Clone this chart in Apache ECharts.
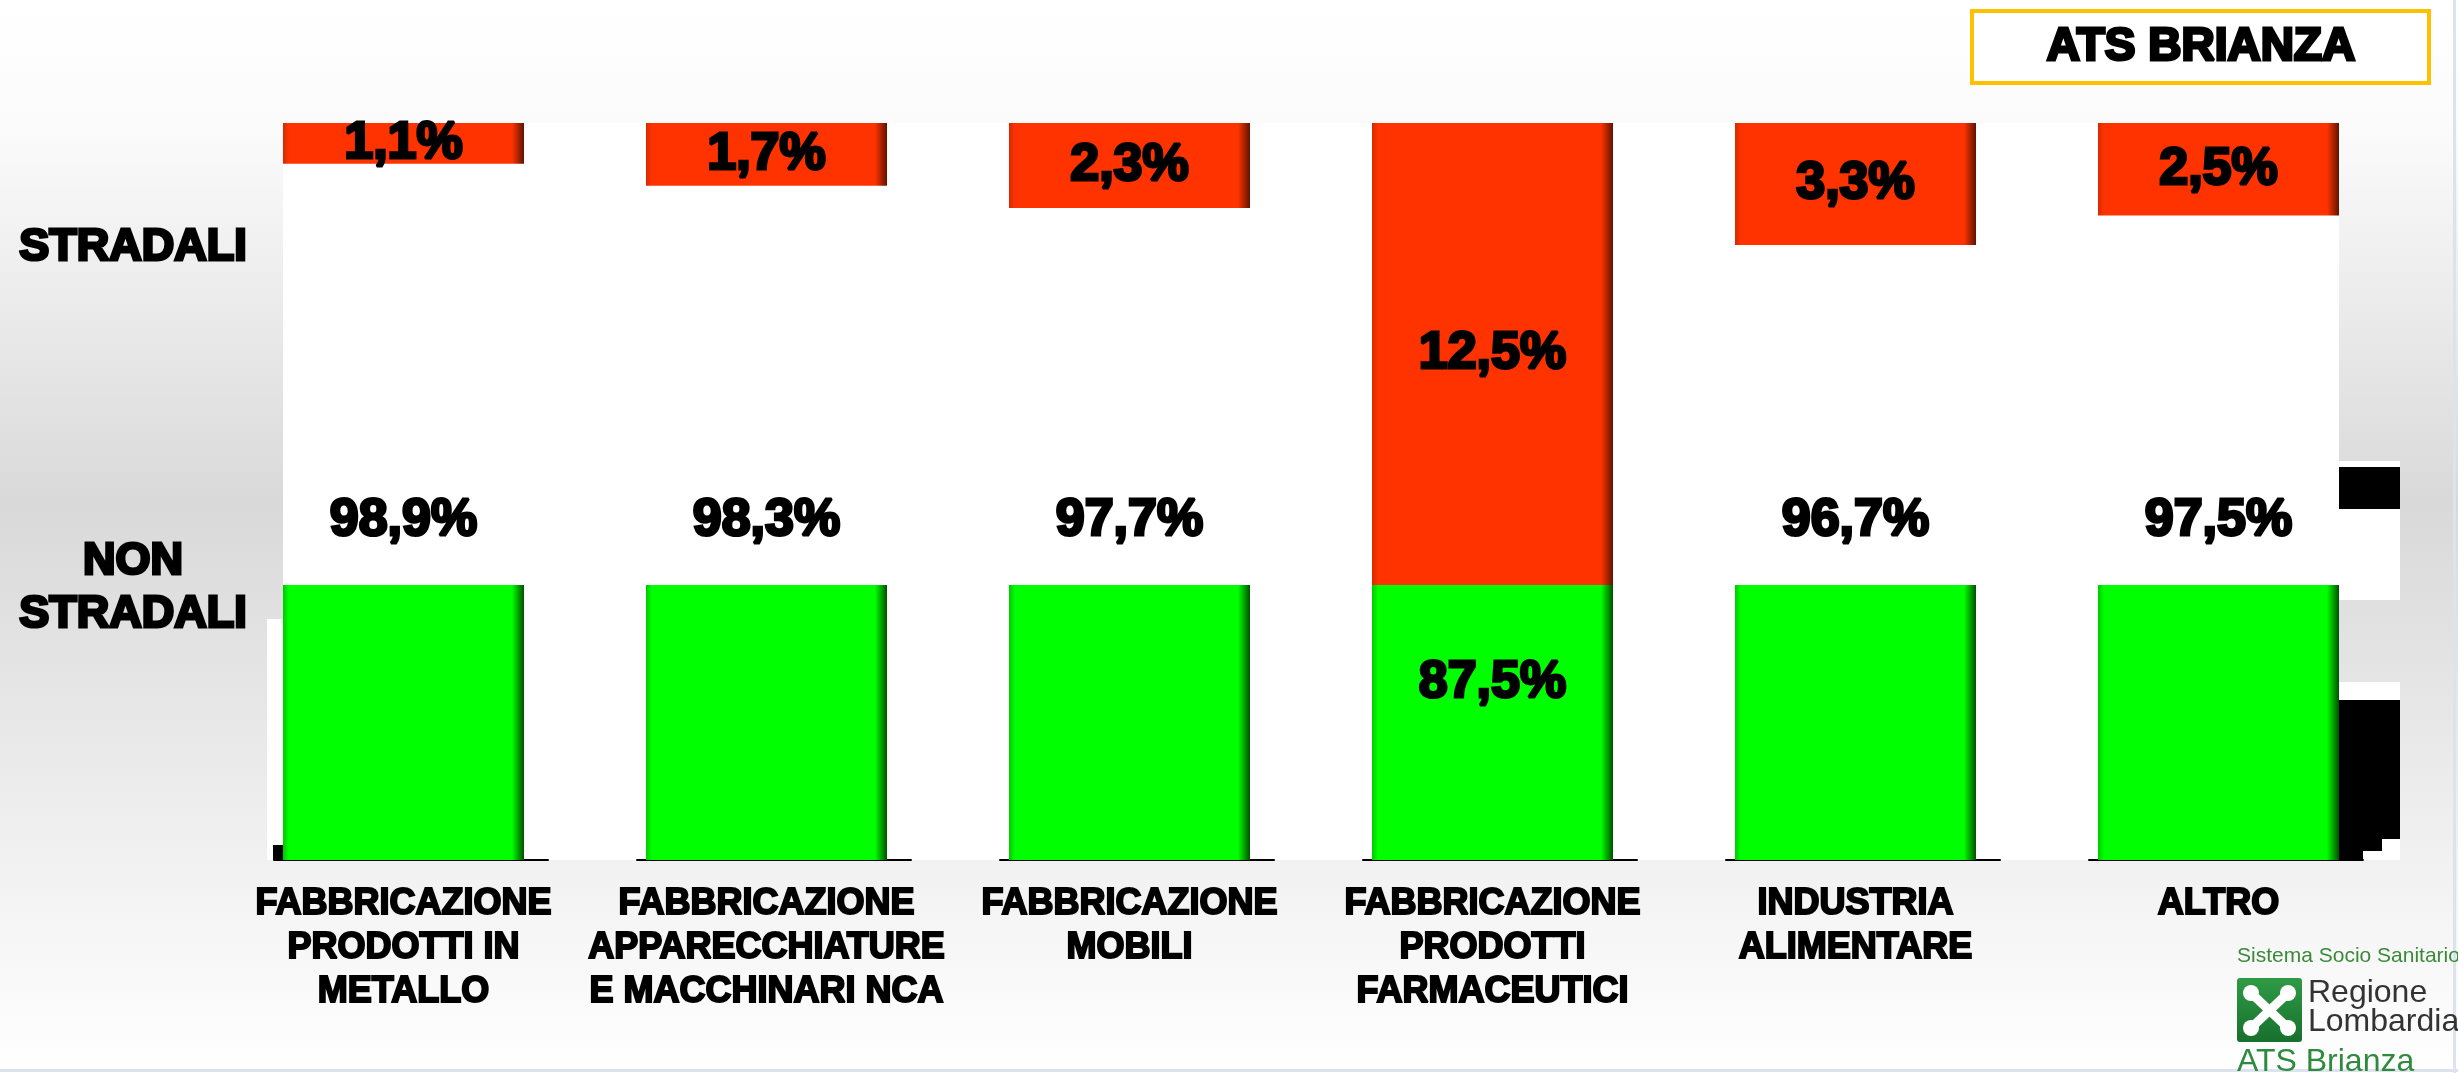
<!DOCTYPE html>
<html>
<head>
<meta charset="utf-8">
<script src="https://cdn.jsdelivr.net/npm/echarts@6/dist/echarts.min.js"></script>
<style>html,body{margin:0;padding:0;background:#fff;}#c{width:2458px;height:1073px;}</style>
</head>
<body>
<div id="c"></div>
<script>
// ---- data ----
const categories = [
  'FABBRICAZIONE\nPRODOTTI IN\nMETALLO',
  'FABBRICAZIONE\nAPPARECCHIATURE\nE MACCHINARI NCA',
  'FABBRICAZIONE\nMOBILI',
  'FABBRICAZIONE\nPRODOTTI\nFARMACEUTICI',
  'INDUSTRIA\nALIMENTARE',
  'ALTRO'
];
const stradali    = [1.1, 1.7, 2.3, 12.5, 3.3, 2.5];
const nonStradali = [98.9, 98.3, 97.7, 87.5, 96.7, 97.5];
const rowLabels = ['STRADALI', 'NON\nSTRADALI'];
const titleText = 'ATS BRIANZA';

// axis bounds (broken 100% stacked scale)
const topMin = 0, topMax = 12.5;      // stradali hanging from 100%
const lowMin = 80, lowMax = 87.5;     // non stradali visible part

const FONT = '"Arial Black", "Liberation Sans", Arial, sans-serif';
const fmt = v => v.toFixed(1).replace('.', ',') + '%';

const chart = echarts.init(document.getElementById('c'), null, {renderer: 'canvas'});
const G = echarts.graphic;

const redFill = new G.LinearGradient(0, 0, 1, 0, [
  {offset: 0, color: '#d42a00'}, {offset: 0.025, color: '#ff3300'},
  {offset: 0.95, color: '#ff3300'}, {offset: 1, color: '#5e1400'}
]);
const greenFill = new G.LinearGradient(0, 0, 1, 0, [
  {offset: 0, color: '#00c800'}, {offset: 0.025, color: '#00ff00'},
  {offset: 0.95, color: '#00ff00'}, {offset: 1, color: '#005000'}
]);

const valueLabel = {
  show: true, color: '#000', fontFamily: FONT, fontWeight: 'bold', fontSize: 52,
  textBorderColor: '#000', textBorderWidth: 3,
  formatter: p => fmt(p.value)
};

const greenData = nonStradali.map(v => v <= lowMax
  ? {value: v, label: {position: 'insideTop', distance: 72}}
  : v);

const option = {
  animation: false,
  backgroundColor: '#ffffff',
  grid: [
    {left: 222, right: 58, top: 123, height: 462},
    {left: 222, right: 58, top: 585, height: 275}
  ],
  xAxis: [
    {gridIndex: 0, type: 'category', data: categories, show: false},
    {gridIndex: 1, type: 'category', data: categories,
     axisLine: {show: true, lineStyle: {color: '#000', width: 2, type: [274, 89], dashOffset: 311}},
     axisTick: {show: false},
     axisLabel: {interval: 0, margin: 22, color: '#000', fontFamily: FONT, fontWeight: 'bold',
                 fontSize: 36, lineHeight: 44, align: 'center',
                 textBorderColor: '#000', textBorderWidth: 2}}
  ],
  yAxis: [
    {gridIndex: 0, type: 'value', inverse: true, min: topMin, max: topMax, show: false},
    {gridIndex: 1, type: 'value', min: lowMin, max: lowMax, show: false}
  ],
  series: [
    {name: 'Stradali', type: 'bar', xAxisIndex: 0, yAxisIndex: 0, data: stradali,
     barCategoryGap: '33.6%', itemStyle: {color: redFill},
     label: Object.assign({position: 'inside'}, valueLabel)},
    {name: 'Non stradali', type: 'bar', xAxisIndex: 1, yAxisIndex: 1, data: greenData,
     barCategoryGap: '33.6%', clip: true, itemStyle: {color: greenFill},
     label: Object.assign({position: 'top', distance: 38}, valueLabel)}
  ],
  graphic: [
    // page background gradient
    {type: 'rect', z: -100, silent: true, shape: {x: 0, y: 0, width: 2458, height: 1073},
     style: {fill: new G.LinearGradient(0, 0, 0, 1, [
       {offset: 0, color: '#ffffff'}, {offset: 0.12, color: '#fbfbfb'},
       {offset: 0.47, color: '#d9d9d9'}, {offset: 0.8, color: '#f1f1f1'}, {offset: 1, color: '#ffffff'}])}},
    // white plot panel
    {type: 'rect', z: -50, silent: true, shape: {x: 283, y: 123, width: 2056, height: 737}, style: {fill: '#ffffff'}},
    {type: 'rect', z: -50, silent: true, shape: {x: 267, y: 619, width: 16, height: 241}, style: {fill: '#ffffff'}},
    {type: 'rect', z: -40, silent: true, shape: {x: 273, y: 845, width: 10, height: 15}, style: {fill: '#000'}},
    // remnants at right
    {type: 'rect', z: -50, silent: true, shape: {x: 2339, y: 461, width: 61, height: 139}, style: {fill: '#ffffff'}},
    {type: 'rect', z: -40, silent: true, shape: {x: 2339, y: 467, width: 61, height: 42}, style: {fill: '#000'}},
    {type: 'rect', z: -50, silent: true, shape: {x: 2339, y: 682, width: 61, height: 178}, style: {fill: '#ffffff'}},
    {type: 'rect', z: -40, silent: true, shape: {x: 2339, y: 700, width: 61, height: 139}, style: {fill: '#000'}},
    {type: 'rect', z: -40, silent: true, shape: {x: 2339, y: 839, width: 24, height: 21}, style: {fill: '#000'}},
    {type: 'rect', z: -40, silent: true, shape: {x: 2363, y: 839, width: 19, height: 12}, style: {fill: '#000'}},
    // frame lines
    {type: 'rect', z: -30, silent: true, shape: {x: 2453, y: 0, width: 3, height: 1073}, style: {fill: '#dce3ef'}},
    {type: 'rect', z: -30, silent: true, shape: {x: 0, y: 1069, width: 2458, height: 3}, style: {fill: '#dce3ef'}},
    // row labels
    {type: 'text', z: 10, x: 133, y: 248,
     style: {text: rowLabels[0], font: 'bold 45px ' + FONT, fill: '#000', stroke: '#000', lineWidth: 3,
             align: 'center', verticalAlign: 'middle'}},
    {type: 'text', z: 10, x: 133, y: 588,
     style: {text: rowLabels[1], font: 'bold 45px ' + FONT, lineHeight: 53, fill: '#000', stroke: '#000', lineWidth: 3,
             align: 'center', verticalAlign: 'middle'}},
    // title box
    {type: 'rect', z: 10, shape: {x: 1972, y: 11, width: 457, height: 72},
     style: {fill: '#ffffff', stroke: '#ffc000', lineWidth: 4}},
    {type: 'text', z: 11, x: 2201, y: 47,
     style: {text: titleText, font: 'bold 46px ' + FONT, fill: '#000', stroke: '#000', lineWidth: 3,
             align: 'center', verticalAlign: 'middle'}},
    // logo
    {type: 'text', z: 10, x: 2237, y: 956,
     style: {text: 'Sistema Socio Sanitario', font: '21px "Liberation Sans", Arial, sans-serif', fill: '#3a8a3a',
             align: 'left', verticalAlign: 'middle'}},
    {type: 'rect', z: 10, shape: {x: 2237, y: 978, width: 65, height: 64, r: 3},
     style: {fill: new G.LinearGradient(0, 0, 0, 1, [{offset: 0, color: '#2f9a45'}, {offset: 1, color: '#17702d'}])}},
    {type: 'line', z: 11, shape: {x1: 2252, y1: 994, x2: 2287, y2: 1027}, style: {stroke: '#ffffff', lineWidth: 9}},
    {type: 'line', z: 11, shape: {x1: 2287, y1: 994, x2: 2252, y2: 1027}, style: {stroke: '#ffffff', lineWidth: 9}},
    {type: 'circle', z: 11, shape: {cx: 2251, cy: 993, r: 8}, style: {fill: '#ffffff'}},
    {type: 'circle', z: 11, shape: {cx: 2288, cy: 993, r: 8}, style: {fill: '#ffffff'}},
    {type: 'circle', z: 11, shape: {cx: 2251, cy: 1028, r: 8}, style: {fill: '#ffffff'}},
    {type: 'circle', z: 11, shape: {cx: 2288, cy: 1028, r: 8}, style: {fill: '#ffffff'}},
    {type: 'text', z: 10, x: 2308, y: 1008,
     style: {text: 'Regione\nLombardia', font: '32px "Liberation Sans", Arial, sans-serif', lineHeight: 29, fill: '#333333',
             align: 'left', verticalAlign: 'middle'}},
    {type: 'text', z: 10, x: 2237, y: 1062,
     style: {text: 'ATS Brianza', font: '32px "Liberation Sans", Arial, sans-serif', fill: '#2e8b3e',
             align: 'left', verticalAlign: 'middle'}}
  ]
};
chart.setOption(option);
</script>
</body>
</html>
